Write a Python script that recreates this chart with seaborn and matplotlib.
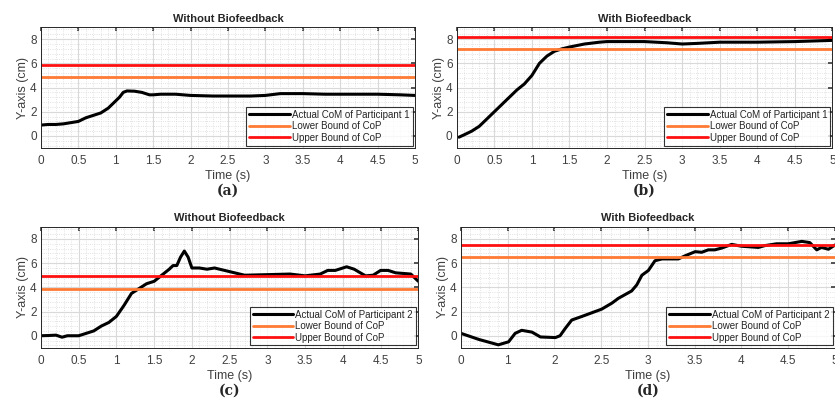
import numpy as np
import pandas as pd
import matplotlib
matplotlib.use('Agg')
import matplotlib.pyplot as plt
import seaborn as sns
from matplotlib.ticker import AutoMinorLocator, MultipleLocator

# (a) 참가자 1, 바이오피드백 없음
t_a = [0, 0.1, 0.2, 0.3, 0.4, 0.5, 0.55, 0.6, 0.7, 0.8, 0.9, 1.0, 1.05, 1.1, 1.15, 1.25,
       1.35, 1.45, 1.5, 1.6, 1.8, 2.0, 2.3, 2.5, 2.8, 3.0, 3.2, 3.5, 3.8, 4.0, 4.5, 4.8, 5.0]
com_a = [0.9, 0.95, 0.95, 1.0, 1.1, 1.2, 1.35, 1.5, 1.7, 1.9, 2.3, 2.9, 3.2, 3.6, 3.72, 3.7,
         3.6, 3.4, 3.4, 3.45, 3.45, 3.35, 3.3, 3.3, 3.3, 3.35, 3.5, 3.5, 3.45, 3.45, 3.45, 3.4, 3.35]
low_a, up_a = 4.9, 5.9

# (b) 참가자 1, 바이오피드백 있음
t_b = [0.03, 0.1, 0.2, 0.3, 0.4, 0.5, 0.6, 0.7, 0.8, 0.9, 1.0, 1.1, 1.2, 1.3, 1.4, 1.5,
       1.7, 1.9, 2.0, 2.5, 2.8, 3.0, 3.2, 3.5, 4.0, 4.5, 5.0]
com_b = [-0.1, 0.1, 0.4, 0.8, 1.4, 2.0, 2.6, 3.2, 3.8, 4.3, 5.0, 6.0, 6.6, 7.0, 7.2, 7.35,
         7.6, 7.75, 7.8, 7.8, 7.7, 7.6, 7.65, 7.75, 7.75, 7.8, 7.9]
low_b, up_b = 7.2, 8.2

# (c) 참가자 2, 바이오피드백 없음
t_c = [0, 0.1, 0.2, 0.28, 0.35, 0.5, 0.6, 0.7, 0.8, 0.9, 1.0, 1.1, 1.2, 1.3, 1.4, 1.5,
       1.6, 1.7, 1.75, 1.8, 1.85, 1.9, 1.95, 2.0, 2.1, 2.2, 2.3, 2.4, 2.5, 2.7, 3.0,
       3.3, 3.5, 3.7, 3.8, 3.9, 4.05, 4.15, 4.3, 4.4, 4.5, 4.6, 4.7, 4.9, 5.0]
com_c = [0.0, 0.02, 0.05, -0.12, 0.0, 0.0, 0.2, 0.4, 0.8, 1.1, 1.6, 2.5, 3.5, 3.9, 4.3, 4.5,
         5.0, 5.5, 5.8, 5.8, 6.5, 7.0, 6.5, 5.6, 5.6, 5.5, 5.6, 5.45, 5.3, 5.0, 5.05,
         5.1, 4.95, 5.1, 5.4, 5.4, 5.7, 5.5, 4.95, 5.0, 5.4, 5.4, 5.2, 5.1, 4.5]
low_c, up_c = 3.9, 4.9

# (d) 참가자 2, 바이오피드백 있음 (x는 눈금 위치 기준)
t_d = [0, 0.38, 0.8, 1.02, 1.16, 1.3, 1.52, 1.7, 2.02, 2.12, 2.23, 2.37, 2.59, 2.8, 3.01,
       3.23, 3.37, 3.51, 3.65, 3.76, 3.87, 4.01, 4.15, 4.3, 4.65, 4.79, 5.01, 5.15, 5.29,
       5.43, 5.58, 5.79, 6.0, 6.36, 6.5, 6.75, 7.0, 7.29, 7.46, 7.61, 7.71, 7.86, 8.0]
com_d = [0.2, -0.3, -0.75, -0.5, 0.2, 0.45, 0.3, -0.1, -0.15, 0.0, 0.6, 1.3, 1.6, 1.9, 2.2,
         2.7, 3.1, 3.4, 3.7, 4.2, 5.0, 5.4, 6.2, 6.35, 6.35, 6.6, 6.95, 6.9, 7.1,
         7.1, 7.25, 7.55, 7.4, 7.3, 7.45, 7.6, 7.6, 7.8, 7.7, 7.1, 7.3, 7.15, 7.5]
low_d, up_d = 6.5, 7.5

# 눈금
xtick_vals = [0, 0.5, 1, 1.5, 2, 2.5, 3, 3.5, 4, 4.5, 5]
xtick_labels = ['0', '0.5', '1', '1.5', '2', '2.5', '3', '3.5', '4', '4.5', '5']
xtick_labels_d = ['0', '1', '2', '2.5', '3', '3.5', '4', '4.5', '5']
ytick_vals = [0, 2, 4, 6, 8]

titles = ['Without Biofeedback', 'With Biofeedback', 'Without Biofeedback', 'With Biofeedback']
panel_labels = ['(a)', '(b)', '(c)', '(d)']
participants = ['Actual CoM of Participant 1', 'Actual CoM of Participant 1',
                'Actual CoM of Participant 2', 'Actual CoM of Participant 2']

sns.set_theme(style='white')
plt.rcParams['font.family'] = ['Liberation Sans', 'DejaVu Sans']

fig = plt.figure(figsize=(8.35, 3.98), dpi=100)
# 패널 위치 (left, bottom, width, height)
positions = [
    [0.049, 0.628, 0.448, 0.304],
    [0.547, 0.628, 0.450, 0.304],
    [0.049, 0.126, 0.452, 0.304],
    [0.552, 0.126, 0.448, 0.304],
]
data = [(t_a, com_a, low_a, up_a), (t_b, com_b, low_b, up_b),
        (t_c, com_c, low_c, up_c), (t_d, com_d, low_d, up_d)]

orange = '#FF7A33'
red = '#FF1010'

for i, (t, com, low, up) in enumerate(data):
    ax = fig.add_axes(positions[i])
    df = pd.DataFrame({'t': t, 'com': com})
    sns.lineplot(data=df, x='t', y='com', ax=ax, color='black', linewidth=2.2,
                 label=participants[i], sort=False)
    ax.axhline(low, color=orange, linewidth=2.0, label='Lower Bound of CoP')
    ax.axhline(up, color=red, linewidth=2.0, label='Upper Bound of CoP')

    ax.set_ylim(-1, 9)
    ax.set_yticks(ytick_vals)
    ax.set_yticklabels([str(v) for v in ytick_vals])
    ax.yaxis.set_minor_locator(AutoMinorLocator(5))
    if i == 3:
        ax.set_xlim(0, len(xtick_labels_d) - 1)
        ax.set_xticks(range(len(xtick_labels_d)))
        ax.set_xticklabels(xtick_labels_d)
        ax.xaxis.set_minor_locator(AutoMinorLocator(5))
    else:
        ax.set_xlim(0, 5)
        ax.set_xticks(xtick_vals)
        ax.set_xticklabels(xtick_labels)
        ax.xaxis.set_minor_locator(MultipleLocator(0.1))

    ax.grid(which='major', color='#d9d9d9', linewidth=0.8, linestyle='-')
    ax.grid(which='minor', color='#d9d9d9', linewidth=0.6, linestyle=':')
    ax.set_axisbelow(True)
    ax.tick_params(which='both', direction='in', top=True, right=True, colors='#404040',
                   labelsize=8.5, length=3)
    ax.tick_params(axis='x', pad=5)
    ax.tick_params(axis='y', pad=3)
    ax.tick_params(which='minor', length=0)
    for s in ax.spines.values():
        s.set_color('#262626')
        s.set_linewidth(0.7)

    ax.set_title(titles[i], fontsize=8, fontweight='bold', pad=4, color='#262626')
    ax.set_xlabel('Time (s)', fontsize=9, color='#404040', labelpad=2)
    ax.set_ylabel('Y-axis (cm)', fontsize=9, color='#404040', labelpad=1)
    ax.text(0.5, -0.35, panel_labels[i], transform=ax.transAxes, ha='center', va='center',
            fontsize=10, fontweight='bold', family=['DejaVu Serif'])

    leg = ax.legend(loc='lower right', fontsize=7, frameon=True, fancybox=False,
                    edgecolor='black', handlelength=4.2, borderaxespad=0.25,
                    borderpad=0.3, labelspacing=0.15, handletextpad=0.2)
    leg.get_frame().set_linewidth(0.8)

fig.savefig('out.png', dpi=100)
